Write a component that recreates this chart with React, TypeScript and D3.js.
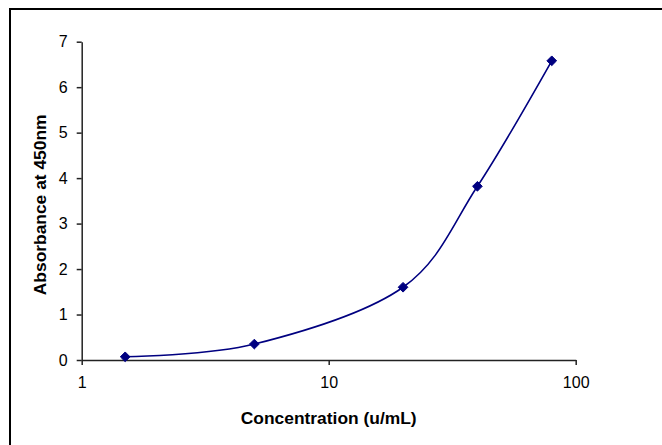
import React, { useEffect, useRef } from 'react';
import * as d3 from 'd3';

// standard curve readings
const concentrations = [1.5, 5, 20, 40, 80];
const absorbance = [0.07, 0.35, 1.6, 3.82, 6.58];
const xTicks = [1, 10, 100];
const yTicks = [0, 1, 2, 3, 4, 5, 6, 7];

const WIDTH = 662;
const HEIGHT = 445;
const LEFT = 81.7;
const RIGHT = 575.7;
const TOP = 41.7;
const BOTTOM = 360;
const NAVY = '#000080';
const FONT = 'Arial, "Liberation Sans", sans-serif';

const App = () => {
    const svgRef = useRef<SVGSVGElement>(null);

    useEffect(() => {
        const x = d3.scaleLog().domain([1, 100]).range([LEFT, RIGHT]);
        const y = d3.scaleLinear().domain([0, 7]).range([BOTTOM, TOP]);
        const svg = d3.select(svgRef.current);
        svg.selectAll('*').remove();

        // chart frame, only the top and left edges fall inside the window
        svg.append('rect')
            .attr('x', 10).attr('y', 9)
            .attr('width', 700).attr('height', 500)
            .attr('fill', 'white')
            .attr('stroke', '#000').attr('stroke-width', 2);

        const xAxis = svg.append('g')
            .attr('transform', `translate(0,${BOTTOM})`)
            .call(d3.axisBottom(x).tickValues(xTicks).tickFormat(d3.format('d')).tickSize(5).tickSizeOuter(0).tickPadding(12));

        const yAxis = svg.append('g')
            .attr('transform', `translate(${LEFT},0)`)
            .call(d3.axisLeft(y).tickValues(yTicks).tickFormat(d3.format('d')).tickSize(5).tickSizeOuter(0).tickPadding(9));

        [xAxis, yAxis].forEach(g => {
            g.attr('font-size', null).attr('font-family', null);
            g.select('.domain').attr('stroke', '#222').attr('stroke-width', 1.5);
            g.selectAll('.tick line').attr('stroke', '#222').attr('stroke-width', 1.5);
            g.selectAll('.tick text')
                .attr('fill', '#000')
                .style('font-family', FONT)
                .style('font-size', '16px');
        });

        const data = concentrations.map((c, i) => ({ c, a: absorbance[i] }));

        svg.append('path')
            .datum(data)
            .attr('fill', 'none')
            .attr('stroke', NAVY)
            .attr('stroke-width', 1.6)
            .attr('d', d3.line<{ c: number; a: number }>()
                .x(d => x(d.c))
                .y(d => y(d.a))
                .curve(d3.curveCardinal.tension(0)));

        svg.append('g')
            .selectAll('path')
            .data(data)
            .join('path')
            .attr('transform', d => `translate(${x(d.c)},${y(d.a)})`)
            .attr('d', d3.symbol(d3.symbolDiamond2, 60)())
            .attr('fill', NAVY)
            .attr('stroke', NAVY)
            .attr('stroke-width', 1);

        svg.append('text')
            .attr('x', (LEFT + RIGHT) / 2)
            .attr('y', 424)
            .attr('text-anchor', 'middle')
            .style('font-family', FONT)
            .style('font-size', '17.4px')
            .style('font-weight', 'bold')
            .text('Concentration (u/mL)');

        svg.append('text')
            .attr('transform', `translate(46,${(TOP + BOTTOM) / 2 + 4}) rotate(-90)`)
            .attr('text-anchor', 'middle')
            .style('font-family', FONT)
            .style('font-size', '17.4px')
            .style('font-weight', 'bold')
            .text('Absorbance at 450nm');
    }, []);

    return (
        <svg ref={svgRef} width={WIDTH} height={HEIGHT}
            style={{ position: 'fixed', left: 0, top: 0, background: 'white' }} />
    );
};

export default App;
